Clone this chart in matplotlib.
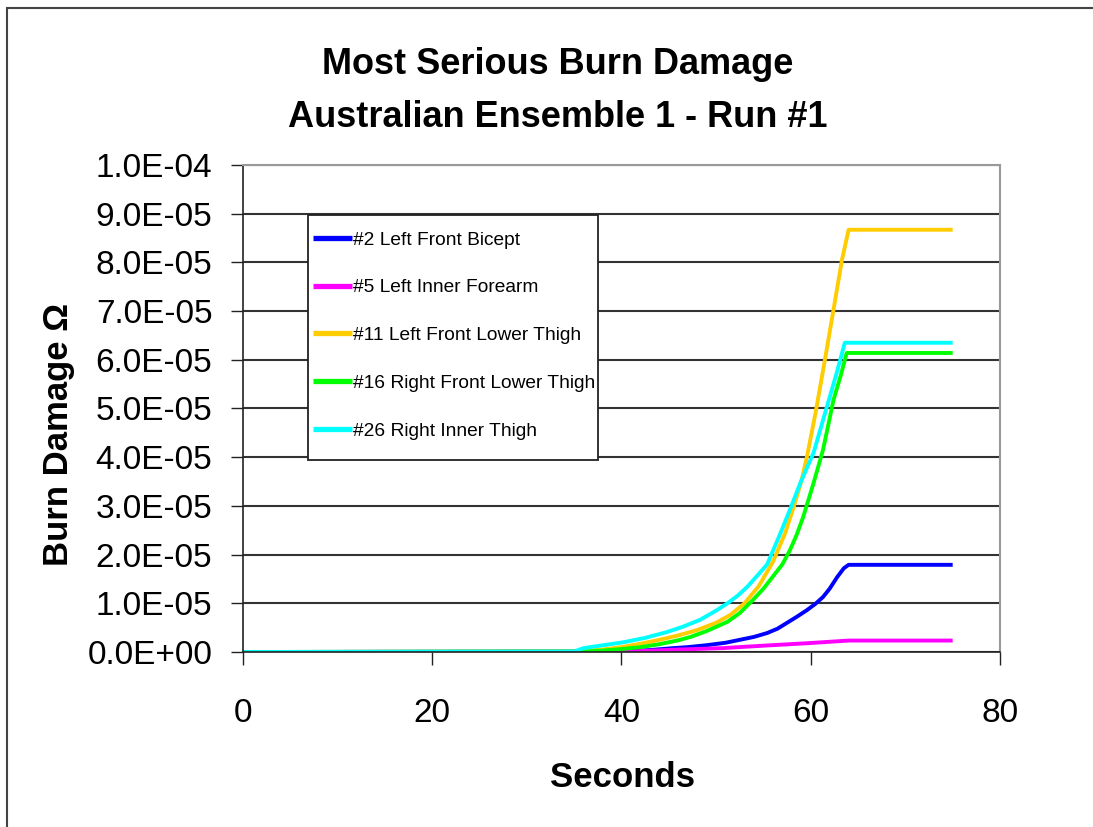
import matplotlib
matplotlib.use("Agg")
import matplotlib.pyplot as plt
from matplotlib.ticker import FuncFormatter, MultipleLocator
from matplotlib.patches import Rectangle

plt.rcParams['font.family'] = ['Liberation Sans', 'DejaVu Sans']

# Burn damage values are in units of 1E-05
labels = ['#2 Left Front Bicept', '#5 Left Inner Forearm', '#11 Left Front Lower Thigh',
          '#16 Right Front Lower Thigh', '#26 Right Inner Thigh']
colors = ['#0000FF', '#FF00FF', '#FFCC00', '#00FF00', '#00FFFF']

t_bicep = [0, 40, 43, 45.5, 47, 49, 51, 52.5, 54, 55.4, 56.5, 57.5, 58.5, 59.6, 60.5, 61.3, 62, 62.8, 63.5, 64.0, 75]
d_bicep = [0, 0.01, 0.04, 0.08, 0.1, 0.14, 0.19, 0.25, 0.31, 0.39, 0.48, 0.6, 0.72, 0.86, 0.99, 1.13, 1.3, 1.54, 1.72, 1.79, 1.79]

t_forearm = [0, 38, 42, 46, 50.7, 55, 59.6, 64.0, 75]
d_forearm = [0, 0.005, 0.02, 0.05, 0.08, 0.13, 0.18, 0.235, 0.235]

t_lthigh = [0, 35, 38, 40, 42, 44, 46, 48, 50, 51.5, 53, 54.5, 56, 57.3, 58.2, 59.0, 59.6, 60.5, 61.5, 62.4, 63.3, 64.0, 75]
d_lthigh = [0, 0.01, 0.05, 0.1, 0.17, 0.25, 0.34, 0.45, 0.6, 0.76, 1.0, 1.35, 1.85, 2.44, 2.98, 3.5, 4.01, 4.9, 6.0, 7.02, 8.05, 8.67, 8.67]

t_rthigh = [0, 36, 38, 40, 42, 44, 46, 47.3, 49, 51.2, 52.5, 53.9, 55, 56.0, 57, 57.8, 58.5, 59.2, 60.3, 61.3, 62.4, 63.2, 63.8, 75]
d_rthigh = [0, 0.01, 0.03, 0.06, 0.1, 0.16, 0.24, 0.31, 0.43, 0.62, 0.8, 1.07, 1.3, 1.55, 1.8, 2.09, 2.4, 2.77, 3.47, 4.15, 5.17, 5.7, 6.14, 6.14]

t_inner = [0, 35, 36, 40.2, 42.5, 44.8, 46.5, 48.3, 50, 51.2, 52.3, 53.3, 54.5, 55.4, 56.8, 57.8, 58.9, 60.3, 61.7, 62.7, 63.6, 75]
d_inner = [0, 0.01, 0.08, 0.2, 0.29, 0.41, 0.52, 0.66, 0.85, 1.0, 1.16, 1.34, 1.6, 1.8, 2.44, 2.92, 3.47, 4.09, 5.03, 5.7, 6.35, 6.35]

series = [(t_bicep, d_bicep), (t_forearm, d_forearm), (t_lthigh, d_lthigh),
          (t_rthigh, d_rthigh), (t_inner, d_inner)]

fig = plt.figure(figsize=(10.93, 8.27), dpi=100)
ax = fig.add_axes([0.2223, 0.2116, 0.6926, 0.5889])

for (t, d), c, lab in zip(series, colors, labels):
    ax.plot(t, [v * 1e-5 for v in d], color=c, lw=2.8, label=lab, solid_capstyle='butt')

ax.set_xlim(0, 80)
ax.set_ylim(0, 1e-4)
ax.xaxis.set_major_locator(MultipleLocator(20))
ax.yaxis.set_major_locator(MultipleLocator(1e-5))
ax.yaxis.set_major_formatter(FuncFormatter(lambda v, p: f"{v:.1E}"))
ax.grid(axis='y', color='#333333', lw=1.5)
ax.set_axisbelow(True)

ax.tick_params(axis='both', direction='out', length=9, width=1, color='#222222', labelsize=24)
ax.tick_params(axis='x', pad=24)
ax.tick_params(axis='y', pad=13)
for s in ['top', 'right']:
    ax.spines[s].set_color('#999999')
    ax.spines[s].set_linewidth(1.5)
for s in ['left', 'bottom']:
    ax.spines[s].set_color('#222222')
    ax.spines[s].set_linewidth(1.2)

ax.set_xlabel('Seconds', fontsize=25, fontweight='bold')
ax.xaxis.set_label_coords(0.502, -0.224)
ylab = ax.set_ylabel('Burn Damage Ω', fontsize=25, fontweight='bold')
ylab.set_va('center')
ax.yaxis.set_label_coords(-0.244, 0.446)

fig.text(0.51, 0.922, 'Most Serious Burn Damage', ha='center', va='center', fontsize=26, fontweight='bold')
fig.text(0.51, 0.858, 'Australian Ensemble 1 - Run #1', ha='center', va='center', fontsize=26, fontweight='bold')

leg = ax.legend(loc='upper left', bbox_to_anchor=(0.0925, 0.8637), fontsize=13.8, frameon=False,
                handlelength=2.05, handletextpad=0.05, labelspacing=1.58, borderpad=0,
                borderaxespad=0)
for h in leg.get_lines():
    h.set_linewidth(3.8)
# legend frame
ax.add_patch(Rectangle((0.0859, 0.394), 0.3831, 0.5033, transform=ax.transAxes, fill=False,
                       edgecolor='#222222', lw=1.3, zorder=4))
ax.add_patch(Rectangle((0.0859, 0.394), 0.3831, 0.5033, transform=ax.transAxes, fill=True,
                       facecolor='white', edgecolor='none', zorder=1.5))

fig.patches.append(Rectangle((7 / 1093, -0.1), 1.1, 1.1 - 8 / 827, transform=fig.transFigure,
                             fill=False, edgecolor='#444444', lw=1.5, clip_on=False))

fig.savefig('out.png', dpi=100)
